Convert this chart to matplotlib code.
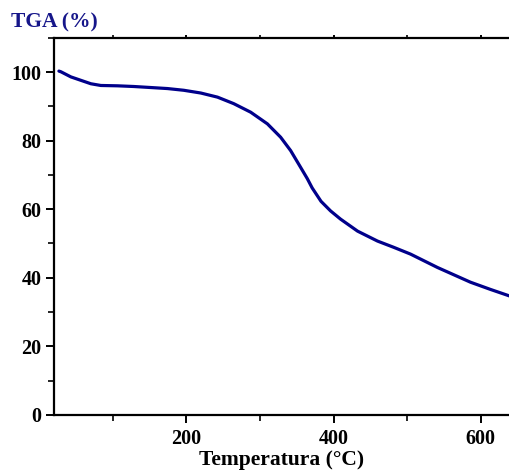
import matplotlib
matplotlib.use("Agg")
import matplotlib.pyplot as plt
from matplotlib.ticker import MultipleLocator

# TGA curve
temp_c = [26.6, 29.3, 42.9, 56.5, 70.1, 83.6, 106.3, 128.5, 151.6, 174.3, 196.4,
          219.5, 242.2, 264.3, 287.4, 310.1, 328.1, 341.7, 355.3, 364.4, 371.0,
          383.0, 396.0, 409.6, 432.7, 459.8, 481.6, 504.7, 541.3, 586.2, 613.3,
          640.5]
mass_pct = [100.3, 100.1, 98.6, 97.6, 96.6, 96.1, 96.0, 95.8, 95.5, 95.2, 94.7,
            93.9, 92.7, 90.8, 88.3, 84.9, 81.0, 77.1, 72.2, 68.9, 66.2,
            62.3, 59.5, 57.1, 53.6, 50.7, 48.9, 46.9, 43.0, 38.7, 36.6,
            34.6]

x_ticks = [200, 400, 600]
y_ticks = [0, 20, 40, 60, 80, 100]

plt.rcParams["font.family"] = ["Liberation Serif", "DejaVu Serif"]
plt.rcParams["font.weight"] = "bold"

fig = plt.figure(figsize=(5.10, 4.73), dpi=100)
ax = fig.add_axes([0.106, 0.123, 0.894, 0.797])

ax.plot(temp_c, mass_pct, color="#00008B", linewidth=2.3,
        solid_capstyle="round", solid_joinstyle="round")

ax.set_xlim(20, 640)
ax.set_ylim(0, 110)
ax.set_xticks(x_ticks)
ax.set_yticks(y_ticks)
ax.xaxis.set_minor_locator(MultipleLocator(100))
ax.yaxis.set_minor_locator(MultipleLocator(10))

for side in ("left", "bottom", "top"):
    ax.spines[side].set_linewidth(1.6)
ax.spines["right"].set_visible(False)

ax.tick_params(axis="both", which="major", direction="out", length=6,
               width=1.4, labelsize=14.5)
ax.tick_params(axis="both", which="minor", direction="out", length=4, width=1.2)
ax.tick_params(axis="y", which="major", pad=3)
ax.tick_params(axis="x", which="major", pad=4)
# top spine carries only tiny ticks
ax.tick_params(axis="x", which="both", top=True, labeltop=False)
for t in ax.xaxis.get_major_ticks() + ax.xaxis.get_minor_ticks():
    t.tick2line.set_markersize(2)
for lbl in ax.get_xticklabels() + ax.get_yticklabels():
    lbl.set_fontweight("bold")

ax.set_xlabel("Temperatura (°C)", fontsize=15.5, fontweight="bold", labelpad=1)
fig.text(0.022, 0.953, "TGA (%)", fontsize=15.5, fontweight="bold",
         color="#16168A", ha="left", va="center")

plt.savefig("out.png", dpi=100)
plt.close()
